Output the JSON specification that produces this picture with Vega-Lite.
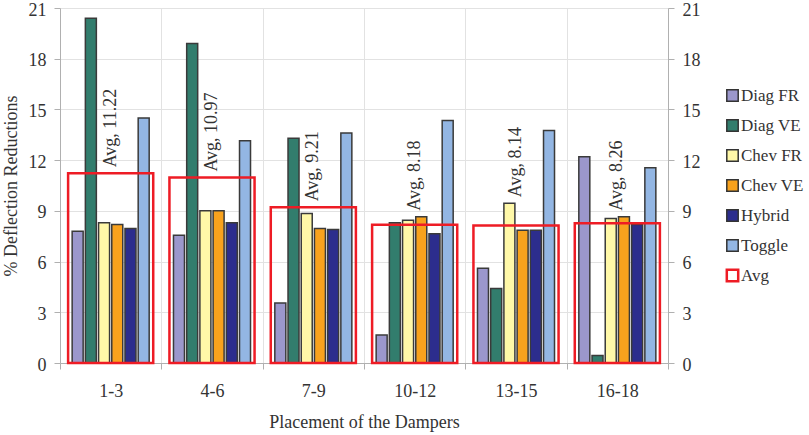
{
  "$schema": "https://vega.github.io/schema/vega-lite/v6.json",
  "width": 608,
  "height": 355,
  "autosize": "none",
  "padding": {"left": 60, "top": 8, "right": 141, "bottom": 72},
  "background": "white",
  "config": {
    "view": {"stroke": null},
    "font": "Liberation Serif",
    "axis": {"labelFont": "Liberation Serif", "titleFont": "Liberation Serif", "labelFontSize": 18, "titleFontSize": 18, "labelColor": "#333333", "titleColor": "#333333", "titleFontWeight": "normal", "domainColor": "#b0b0b0", "tickColor": "#b0b0b0", "gridColor": "#e2e2e2", "tickSize": 6},
    "legend": {"labelFont": "Liberation Serif", "labelFontSize": 17, "labelColor": "#333333", "rowPadding": 11, "labelOffset": 0, "symbolType": "square", "symbolSize": 130}
  },
  "datasets": {
    "bars": [
      {"group": "1-3", "series": "Diag FR", "value": 7.8},
      {"group": "1-3", "series": "Diag VE", "value": 20.4},
      {"group": "1-3", "series": "Chev FR", "value": 8.3},
      {"group": "1-3", "series": "Chev VE", "value": 8.2},
      {"group": "1-3", "series": "Hybrid", "value": 7.95},
      {"group": "1-3", "series": "Toggle", "value": 14.5},
      {"group": "4-6", "series": "Diag FR", "value": 7.55},
      {"group": "4-6", "series": "Diag VE", "value": 18.9},
      {"group": "4-6", "series": "Chev FR", "value": 9.0},
      {"group": "4-6", "series": "Chev VE", "value": 9.0},
      {"group": "4-6", "series": "Hybrid", "value": 8.3},
      {"group": "4-6", "series": "Toggle", "value": 13.15},
      {"group": "7-9", "series": "Diag FR", "value": 3.55},
      {"group": "7-9", "series": "Diag VE", "value": 13.3},
      {"group": "7-9", "series": "Chev FR", "value": 8.85},
      {"group": "7-9", "series": "Chev VE", "value": 7.95},
      {"group": "7-9", "series": "Hybrid", "value": 7.9},
      {"group": "7-9", "series": "Toggle", "value": 13.6},
      {"group": "10-12", "series": "Diag FR", "value": 1.65},
      {"group": "10-12", "series": "Diag VE", "value": 8.3},
      {"group": "10-12", "series": "Chev FR", "value": 8.45},
      {"group": "10-12", "series": "Chev VE", "value": 8.65},
      {"group": "10-12", "series": "Hybrid", "value": 7.65},
      {"group": "10-12", "series": "Toggle", "value": 14.35},
      {"group": "13-15", "series": "Diag FR", "value": 5.6},
      {"group": "13-15", "series": "Diag VE", "value": 4.4},
      {"group": "13-15", "series": "Chev FR", "value": 9.45},
      {"group": "13-15", "series": "Chev VE", "value": 7.85},
      {"group": "13-15", "series": "Hybrid", "value": 7.85},
      {"group": "13-15", "series": "Toggle", "value": 13.75},
      {"group": "16-18", "series": "Diag FR", "value": 12.2},
      {"group": "16-18", "series": "Diag VE", "value": 0.45},
      {"group": "16-18", "series": "Chev FR", "value": 8.55},
      {"group": "16-18", "series": "Chev VE", "value": 8.65},
      {"group": "16-18", "series": "Hybrid", "value": 8.2},
      {"group": "16-18", "series": "Toggle", "value": 11.55}
    ],
    "avgs": [
      {"group": "1-3", "series": "Avg", "avg": 11.22, "label": "Avg, 11.22"},
      {"group": "4-6", "series": "Avg", "avg": 10.97, "label": "Avg, 10.97"},
      {"group": "7-9", "series": "Avg", "avg": 9.21, "label": "Avg, 9.21"},
      {"group": "10-12", "series": "Avg", "avg": 8.18, "label": "Avg, 8.18"},
      {"group": "13-15", "series": "Avg", "avg": 8.14, "label": "Avg, 8.14"},
      {"group": "16-18", "series": "Avg", "avg": 8.26, "label": "Avg, 8.26"}
    ]
  },
  "layer": [
    {
      "data": {"name": "bars"},
      "mark": {"type": "bar", "stroke": "#3a3a3a", "strokeWidth": 1.5},
      "encoding": {
        "x": {"field": "group", "type": "nominal", "sort": null,
          "scale": {"domain": ["1-3", "4-6", "7-9", "10-12", "13-15", "16-18"], "paddingInner": 0, "paddingOuter": 0},
          "axis": {"title": "Placement of the Dampers", "labelAngle": 0, "tickBand": "extent", "grid": true, "labelPadding": 13, "titlePadding": 13}},
        "xOffset": {"field": "series", "type": "nominal", "sort": ["Diag FR", "Diag VE", "Chev FR", "Chev VE", "Hybrid", "Toggle"],
          "scale": {"paddingInner": 0.167, "paddingOuter": 0.92}},
        "y": {"field": "value", "type": "quantitative", "scale": {"domain": [0, 21], "nice": false},
          "axis": {"title": "% Deflection Reductions", "values": [0, 3, 6, 9, 12, 15, 18, 21], "grid": true, "labelPadding": 8, "labelOffset": 2, "titlePadding": 8}},
        "fill": {"field": "series", "type": "nominal",
          "scale": {"domain": ["Diag FR", "Diag VE", "Chev FR", "Chev VE", "Hybrid", "Toggle"],
            "range": ["#9b97cc", "#327d6d", "#fff8a8", "#f8a21d", "#2c2d8d", "#93b6e3"]},
          "legend": {"orient": "none", "legendX": 664, "legendY": 79, "title": null, "symbolStrokeColor": "#333333", "symbolStrokeWidth": 1.5}
        }
      }
    },
    {
      "data": {"name": "avgs"},
      "mark": {"type": "bar", "filled": false, "strokeWidth": 2.5, "width": {"band": 0.84}},
      "encoding": {
        "x": {"field": "group", "type": "nominal", "sort": null},
        "y": {"field": "avg", "type": "quantitative", "scale": {"domain": [0, 21], "nice": false},
          "axis": {"orient": "right", "title": null, "values": [0, 3, 6, 9, 12, 15, 18, 21], "grid": false, "labelPadding": 8, "labelOffset": 2}},
        "stroke": {"field": "series", "type": "nominal",
          "scale": {"domain": ["Avg"], "range": ["#ee1c25"]},
          "legend": {"orient": "none", "legendX": 664, "legendY": 259, "title": null, "symbolStrokeWidth": 2.5, "symbolFillColor": "#ffffff"}
        }
      }
    },
    {
      "data": {"name": "bars"},
      "transform": [
        {"filter": {"field": "series", "oneOf": ["Chev FR", "Chev VE"]}},
        {"lookup": "group", "from": {"data": {"name": "avgs"}, "key": "group", "fields": ["avg", "label"]}},
        {"fold": ["value", "avg"], "as": ["k", "v"]},
        {"aggregate": [{"op": "max", "field": "v", "as": "top"}], "groupby": ["group", "label"]}
      ],
      "mark": {"type": "text", "angle": 270, "align": "left", "baseline": "middle", "dx": 6, "font": "Liberation Serif", "fontSize": 18, "color": "#333333"},
      "encoding": {
        "x": {"field": "group", "type": "nominal", "sort": null},
        "y": {"field": "top", "type": "quantitative", "scale": {"domain": [0, 21], "nice": false}, "axis": null},
        "text": {"field": "label"}
      }
    }
  ],
  "resolve": {"axis": {"y": "independent"}}
}
